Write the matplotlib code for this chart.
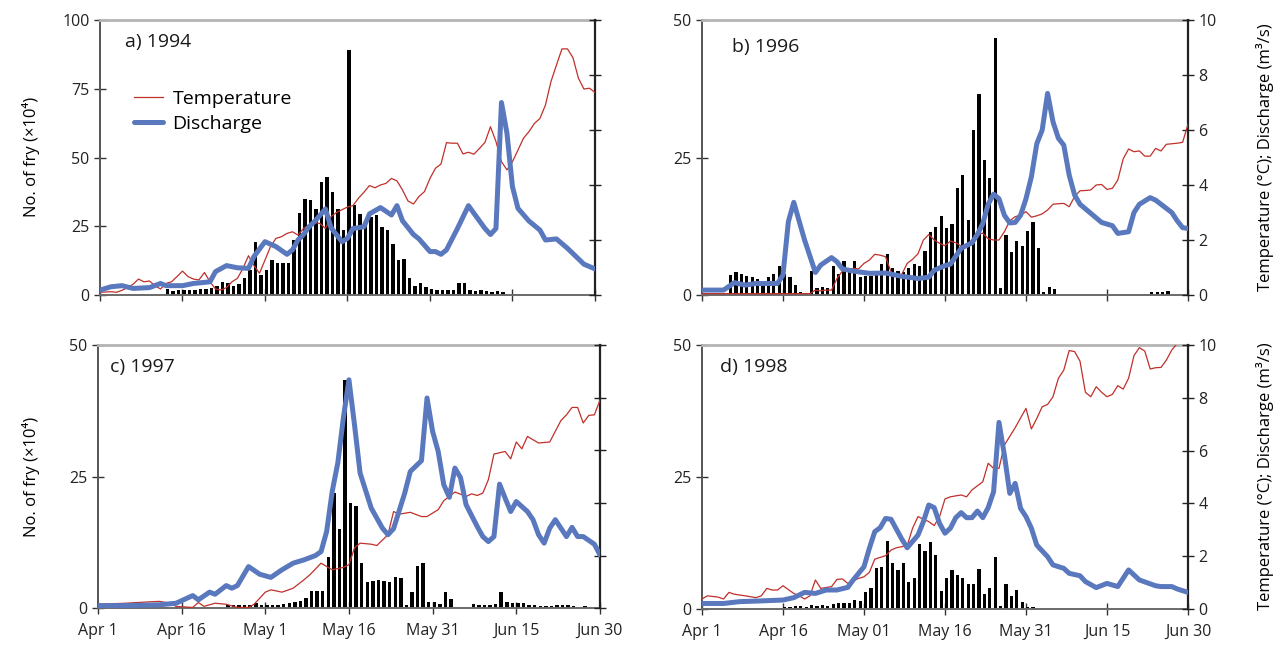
import numpy as np
import matplotlib
matplotlib.use("Agg")
import matplotlib.pyplot as plt

plt.rcParams["font.family"] = ["Open Sans", "DejaVu Sans"]
plt.rcParams["font.size"] = 11

TEMP_COLOR = "#c0302a"
DIS_COLOR = "#5a78be"

# x axis: days since Apr 1 (Apr 1 = 0, Jun 30 = 90)
XTICK_DAYS = [0, 15, 30, 45, 60, 75, 90]
XLABELS_C = ["Apr 1", "Apr 16", "May 1", "May 16", "May 31", "Jun 15", "Jun 30"]
XLABELS_D = ["Apr 1", "Apr 16", "May 01", "May 16", "May 31", "Jun 15", "Jun 30"]

# ---- 1994 ----
fry_a_start = 12
fry_a = [2.2, 1.5, 1.7, 2.0, 1.7, 1.7, 2.2, 2.2, 2.4, 3.4, 4.8, 4.4, 3.4, 3.9, 6.3, 9.0,
         19.3, 7.3, 9.1, 12.7, 11.8, 11.5, 11.8, 20.0, 29.7, 34.9, 34.5, 31.2, 41.2, 42.8,
         37.6, 31.2, 23.6, 89.0, 32.7, 29.3, 27.3, 28.5, 29.0, 24.8, 23.6, 18.4, 12.9, 13.0,
         6.3, 3.4, 4.2, 3.0, 2.2, 1.8, 2.0, 1.8, 2.0, 4.2, 4.2, 1.8, 1.5, 1.7, 1.5, 1.2, 1.5, 1.0]
temp_a_days = [0, 2, 3, 4, 5, 6, 7, 8, 9, 10, 11, 12, 13, 14, 15, 16, 17, 18, 19, 20, 21, 22,
               23, 24, 25, 26, 27, 28, 29, 30, 31, 32, 33, 34, 35, 36, 37, 38, 39, 40, 41, 42,
               43, 44, 45, 46, 47, 48, 49, 50, 51, 52, 53, 54, 55, 56, 57, 58, 59, 60, 61, 62,
               63, 64, 65, 66, 67, 68, 69, 70, 71, 72, 73, 74, 75, 76, 77, 78, 79, 80, 81, 82,
               83, 84, 85, 86, 87, 88, 89, 90]
temp_a = [0.10, 0.12, 0.10, 0.17, 0.27, 0.39, 0.58, 0.48, 0.51, 0.34, 0.22, 0.42, 0.48, 0.67,
          0.87, 0.67, 0.58, 0.55, 0.82, 0.48, 0.22, 0.18, 0.27, 0.48, 0.61, 0.97, 1.43, 1.07,
          0.79, 1.27, 1.76, 2.06, 2.12, 2.24, 2.30, 2.18, 2.42, 2.55, 2.64, 2.60, 2.42, 2.85,
          3.00, 3.10, 3.20, 3.25, 3.52, 3.74, 3.98, 3.90, 4.00, 4.06, 4.24, 4.15, 3.82, 3.42,
          3.31, 3.58, 3.76, 4.24, 4.61, 4.76, 5.54, 5.52, 5.52, 5.13, 5.19, 5.12, 5.33, 5.55,
          6.12, 5.58, 4.85, 4.55, 4.85, 5.27, 5.70, 5.94, 6.24, 6.42, 6.91, 7.76, 8.36, 8.95,
          8.95, 8.63, 7.88, 7.49, 7.52, 7.37]
dis_a_days = [0, 2, 4, 6, 9, 11, 12, 15, 17, 20, 21, 23, 25, 27, 28, 30, 32, 34, 35, 36, 37,
              38, 39, 41, 42, 44, 45, 46, 48, 49, 51, 53, 54, 55, 57, 58, 60, 61, 62, 63, 65,
              67, 68, 70, 71, 72, 73, 74, 75, 76, 78, 80, 81, 83, 85, 88, 90]
dis_a = [0.18, 0.30, 0.34, 0.24, 0.27, 0.42, 0.34, 0.34, 0.42, 0.48, 0.85, 1.07, 0.99, 0.97,
         1.40, 1.94, 1.76, 1.48, 1.64, 2.00, 2.20, 2.48, 2.67, 3.13, 2.45, 1.94, 2.06, 2.42,
         2.48, 2.95, 3.18, 2.91, 3.25, 2.70, 2.20, 2.04, 1.58, 1.58, 1.48, 1.64, 2.42, 3.25,
         2.97, 2.42, 2.20, 2.42, 7.00, 5.88, 3.94, 3.15, 2.69, 2.36, 2.00, 2.04, 1.70, 1.12, 0.95]

# ---- 1996 ----
fry_b_start = 5
fry_b = [3.6, 4.1, 3.8, 3.5, 3.2, 2.9, 2.4, 3.2, 3.8, 5.3, 3.9, 3.2, 1.8, 0.6, 0.0, 4.4, 1.2,
         1.4, 1.2, 5.3, 3.9, 6.2, 4.4, 6.1, 3.2, 3.5, 3.5, 3.7, 5.7, 7.4, 5.0, 4.4, 4.2, 5.0,
         5.6, 5.3, 8.0, 11.4, 12.4, 14.4, 12.2, 13.0, 19.5, 21.8, 13.6, 30.0, 36.5, 24.6, 21.2,
         46.8, 1.3, 10.9, 7.8, 9.8, 9.0, 11.6, 13.3, 8.5, 0.6, 1.5, 1.1, 0, 0, 0, 0, 0, 0, 0,
         0, 0, 0, 0, 0, 0, 0, 0, 0, 0, 0.5, 0.5, 0.5, 0.7]
temp_b_days = [0, 19, 20, 21, 22, 23, 24, 25, 26, 27, 28, 29, 30, 31, 32, 33, 34, 35, 36, 37,
               38, 39, 40, 41, 42, 43, 44, 45, 46, 47, 48, 49, 50, 51, 52, 53, 54, 55, 56, 57,
               58, 59, 60, 61, 62, 63, 64, 65, 66, 67, 68, 69, 70, 71, 72, 73, 74, 75, 76, 77,
               78, 79, 80, 81, 82, 83, 84, 85, 86, 87, 88, 89, 90]
temp_b = [0.05, 0.05, 0.05, 0.18, 0.15, 0.18, 0.18, 0.60, 0.87, 0.90, 0.97, 0.95, 1.15, 1.27,
          1.48, 1.45, 1.39, 0.85, 0.67, 0.75, 1.15, 1.30, 1.50, 2.00, 2.20, 2.00, 1.88, 1.79,
          1.96, 1.90, 1.78, 1.80, 2.00, 2.20, 2.25, 2.05, 2.00, 2.00, 2.30, 2.70, 2.85, 2.90,
          3.03, 2.83, 2.88, 2.95, 3.09, 3.30, 3.32, 3.33, 3.21, 3.58, 3.79, 3.80, 3.82, 4.00,
          4.02, 3.84, 3.88, 4.18, 4.95, 5.31, 5.21, 5.24, 5.05, 5.05, 5.33, 5.24, 5.48, 5.50,
          5.52, 5.55, 6.21]
dis_b_days = [0, 4, 6, 8, 10, 14, 15, 16, 17, 19, 21, 22, 24, 25, 26, 28, 31, 34, 37, 40, 42,
              43, 45, 46, 48, 50, 51, 52, 53, 54, 55, 56, 57, 58, 59, 60, 61, 62, 63, 64, 65,
              66, 67, 68, 69, 70, 72, 74, 76, 77, 79, 80, 81, 83, 84, 86, 87, 88, 89, 90]
dis_b = [0.18, 0.18, 0.45, 0.36, 0.42, 0.42, 0.73, 2.67, 3.37, 2.00, 0.82, 1.09, 1.36, 1.21,
         0.95, 0.87, 0.79, 0.80, 0.68, 0.60, 0.65, 0.90, 1.07, 1.12, 1.70, 1.90, 2.20, 2.60,
         3.30, 3.67, 3.50, 2.90, 2.62, 2.64, 2.90, 3.50, 4.30, 5.50, 6.00, 7.33, 6.30, 5.70,
         5.45, 4.36, 3.64, 3.30, 2.97, 2.64, 2.52, 2.24, 2.30, 3.00, 3.30, 3.54, 3.45, 3.15,
         3.00, 2.70, 2.45, 2.42]

# ---- 1997 ----
fry_c_start = 23
fry_c = [0.6, 0.6, 0.6, 0.6, 0.6, 1.0, 0.7, 0.7, 0.7, 0.7, 0.8, 1.0, 1.3, 1.4, 1.9, 3.4, 3.4,
         3.4, 9.7, 22.0, 15.0, 43.4, 20.1, 19.5, 8.6, 5.0, 5.3, 5.4, 5.3, 5.1, 5.9, 5.8, 0.6,
         3.1, 8.0, 8.6, 1.2, 1.3, 0.8, 3.2, 1.8, 0, 0, 0, 0.8, 0.6, 0.6, 0.6, 0.8, 3.1, 1.3,
         1.0, 1.0, 1.0, 0.6, 0.6, 0.4, 0.4, 0.4, 0.6, 0.6, 0.6, 0.4, 0, 0.4]
temp_c_days = [0, 5, 9, 11, 13, 14, 17, 18, 19, 21, 23, 25, 27, 28, 30, 31, 33, 35, 37, 38, 40,
               42, 44, 45, 46, 47, 49, 50, 52, 53, 54, 56, 58, 59, 61, 62, 64, 65, 66, 67, 68,
               69, 70, 71, 73, 74, 75, 76, 77, 79, 81, 83, 84, 85, 86, 87, 88, 89, 90]
temp_c = [0.16, 0.20, 0.25, 0.27, 0.20, 0.08, 0.04, 0.23, 0.08, 0.20, 0.16, 0.04, 0.04, 0.16,
          0.62, 0.71, 0.62, 0.77, 1.10, 1.28, 1.72, 1.47, 1.56, 1.66, 2.30, 2.48, 2.44, 2.39,
          2.80, 3.68, 3.58, 3.65, 3.49, 3.49, 3.75, 4.09, 4.42, 4.34, 4.25, 4.35, 4.29, 4.38,
          4.89, 5.86, 5.96, 5.68, 6.32, 6.06, 6.53, 6.28, 6.32, 7.13, 7.35, 7.63, 7.63, 7.04,
          7.33, 7.35, 7.90]
dis_c_days = [0, 5, 11, 14, 17, 18, 20, 21, 23, 24, 25, 27, 29, 31, 33, 35, 37, 39, 40, 41, 42,
              43, 44, 45, 46, 47, 49, 51, 52, 53, 55, 56, 58, 59, 60, 61, 62, 63, 64, 65, 66,
              68, 69, 70, 71, 72, 73, 74, 75, 77, 78, 79, 80, 81, 82, 83, 84, 85, 86, 87, 89, 90]
dis_c = [0.11, 0.11, 0.14, 0.20, 0.49, 0.33, 0.62, 0.54, 0.87, 0.77, 0.87, 1.59, 1.30, 1.18,
         1.47, 1.72, 1.85, 2.01, 2.16, 2.92, 4.44, 5.52, 7.23, 8.68, 6.97, 5.14, 3.81, 3.05,
         2.80, 3.03, 4.38, 5.20, 5.61, 7.99, 6.72, 5.96, 4.70, 4.22, 5.33, 4.97, 3.94, 3.11,
         2.73, 2.54, 2.73, 4.72, 4.19, 3.68, 4.06, 3.68, 3.37, 2.80, 2.48, 3.05, 3.37, 3.05,
         2.73, 3.08, 2.73, 2.73, 2.44, 2.04]

# ---- 1998 ----
fry_d_start = 15
fry_d = [0.4, 0.4, 0.5, 0.6, 0.4, 0.8, 0.6, 0.8, 0.6, 0.9, 1.1, 1.1, 1.1, 1.7, 1.6, 3.2, 3.9,
         7.7, 7.9, 12.9, 8.8, 7.3, 8.8, 5.2, 5.8, 12.4, 11.0, 12.6, 10.2, 3.5, 5.9, 7.4, 6.4,
         5.8, 4.7, 4.7, 7.5, 2.8, 4.0, 9.9, 0.6, 4.7, 2.5, 3.6, 1.4, 0.4, 0.3]
temp_d_days = [0, 1, 3, 4, 5, 6, 8, 10, 11, 12, 13, 14, 15, 17, 18, 19, 20, 21, 22, 24, 25, 26,
               27, 29, 30, 31, 32, 34, 35, 36, 38, 39, 40, 42, 43, 44, 45, 46, 48, 49, 50, 52,
               53, 54, 55, 56, 58, 60, 61, 62, 63, 64, 65, 66, 67, 68, 69, 70, 71, 72, 73, 74,
               75, 76, 77, 78, 79, 80, 81, 82, 83, 84, 85, 86, 87, 88, 89, 90]
temp_d = [0.38, 0.50, 0.45, 0.38, 0.63, 0.56, 0.50, 0.43, 0.50, 0.78, 0.72, 0.72, 0.88, 0.59,
          0.50, 0.38, 0.50, 1.10, 0.78, 0.85, 1.12, 1.14, 0.97, 1.16, 1.22, 1.39, 1.89, 2.02,
          2.23, 2.32, 2.40, 3.06, 3.50, 3.31, 3.16, 3.50, 4.17, 4.25, 4.32, 4.25, 4.51, 4.82,
          5.52, 5.33, 5.33, 6.21, 6.87, 7.60, 6.82, 7.22, 7.66, 7.75, 8.04, 8.74, 9.05, 9.79,
          9.75, 9.39, 8.21, 8.04, 8.42, 8.21, 8.04, 8.13, 8.46, 8.33, 8.74, 9.60, 9.90, 9.77,
          9.09, 9.14, 9.15, 9.43, 9.81, 10.06, 10.40, 10.80]
dis_d_days = [0, 4, 7, 10, 15, 17, 19, 21, 23, 25, 27, 28, 30, 31, 32, 33, 34, 35, 37, 38, 40,
              41, 42, 43, 44, 45, 46, 47, 48, 49, 50, 51, 52, 53, 54, 55, 56, 57, 58, 59, 60,
              61, 62, 64, 65, 67, 68, 70, 71, 73, 75, 77, 79, 81, 84, 85, 87, 88, 90]
dis_d = [0.21, 0.21, 0.28, 0.30, 0.34, 0.43, 0.63, 0.59, 0.72, 0.72, 0.82, 1.10, 1.60, 2.30,
         2.93, 3.08, 3.43, 3.40, 2.65, 2.32, 2.80, 3.31, 3.94, 3.84, 3.24, 2.87, 3.06, 3.46,
         3.65, 3.46, 3.46, 3.71, 3.46, 3.84, 4.44, 7.07, 5.83, 4.38, 4.76, 3.81, 3.50, 3.06,
         2.42, 1.98, 1.67, 1.54, 1.35, 1.26, 1.04, 0.81, 0.97, 0.85, 1.48, 1.10, 0.88, 0.85,
         0.85, 0.76, 0.63]

FRY_LABEL = "No. of fry (\u00d710\u2074)"
RIGHT_LABEL = "Temperature (\u00b0C); Discharge (m\u00b3/s)"

fig = plt.figure(figsize=(12.77, 6.45), dpi=100)

panels = [
    # rect, title, title pos, fry, temp, discharge, left ymax, x labels, right labels
    ([0.0783, 0.5426, 0.3876, 0.4264], "a) 1994", (0.05, 0.92),
     fry_a_start, fry_a, temp_a_days, temp_a, dis_a_days, dis_a, 100, None, False),
    ([0.5497, 0.5426, 0.3806, 0.4264], "b) 1996", (0.062, 0.90),
     fry_b_start, fry_b, temp_b_days, temp_b, dis_b_days, dis_b, 50, None, True),
    ([0.0767, 0.0566, 0.3931, 0.4085], "c) 1997", (0.024, 0.917),
     fry_c_start, fry_c, temp_c_days, temp_c, dis_c_days, dis_c, 50, XLABELS_C, False),
    ([0.5497, 0.0558, 0.3806, 0.4093], "d) 1998", (0.037, 0.917),
     fry_d_start, fry_d, temp_d_days, temp_d, dis_d_days, dis_d, 50, XLABELS_D, True),
]

for (rect, title, tpos, fstart, fry, tdays, temp, ddays, dis, ymax, xlabels, rlabels) in panels:
    ax = fig.add_axes(rect)
    days = np.arange(fstart, fstart + len(fry))
    ax.bar(days + 0.3, fry, width=0.62, color="black", zorder=2)
    ax.set_xlim(0, 90)
    ax.set_ylim(0, ymax)
    ax.set_yticks(np.arange(0, ymax + 1, 25))
    ax.set_xticks(XTICK_DAYS)
    if xlabels is None:
        ax.set_xticklabels([])
    else:
        ax.set_xticklabels(xlabels)
    ax.tick_params(axis="both", direction="inout", length=9, width=1.0,
                   color="#333333", labelsize=11.5, labelcolor="#222222", pad=3)
    ax.tick_params(axis="x", pad=6)
    ax.spines["left"].set_color("#555555")
    ax.spines["left"].set_linewidth(1.4)
    ax.spines["bottom"].set_color("#6a6a6a")
    ax.spines["bottom"].set_linewidth(1.4)
    ax.spines["top"].set_color("#b4b4b4")
    ax.spines["top"].set_linewidth(2.0)
    ax.spines["right"].set_visible(False)
    ax.text(tpos[0], tpos[1], title, transform=ax.transAxes, fontsize=14,
            ha="left", va="center", color="#1a1a1a")

    ax2 = ax.twinx()
    ax2.set_ylim(0, 10)
    ax2.set_yticks(np.arange(0, 11, 2))
    if not rlabels:
        ax2.set_yticklabels([])
    ax2.tick_params(axis="y", direction="inout", length=9, width=1.0,
                    color="#222222", labelsize=11.5, labelcolor="#222222", pad=3)
    for s in ["left", "top", "bottom"]:
        ax2.spines[s].set_visible(False)
    ax2.spines["right"].set_color("#222222")
    ax2.spines["right"].set_linewidth(1.6)
    ax2.plot(tdays, temp, color=TEMP_COLOR, lw=0.9, label="Temperature", zorder=3)
    ax2.plot(ddays, dis, color=DIS_COLOR, lw=3.6, solid_joinstyle="round",
             solid_capstyle="round", label="Discharge", zorder=4)
    ax2.set_xlim(0, 90)

    if title.startswith("a"):
        ax2.legend(loc="upper left", bbox_to_anchor=(0.068, 0.745), frameon=False,
                   fontsize=14, handlelength=1.5, handletextpad=0.5,
                   labelspacing=0.35, borderaxespad=0, borderpad=0)

fig.text(0.024, 0.756, FRY_LABEL, rotation=90, ha="center", va="center", fontsize=12)
fig.text(0.024, 0.261, FRY_LABEL, rotation=90, ha="center", va="center", fontsize=12)
fig.text(0.9906, 0.756, RIGHT_LABEL, rotation=90, ha="center", va="center", fontsize=12)
fig.text(0.9906, 0.261, RIGHT_LABEL, rotation=90, ha="center", va="center", fontsize=12)

fig.savefig("out.png", dpi=100)
